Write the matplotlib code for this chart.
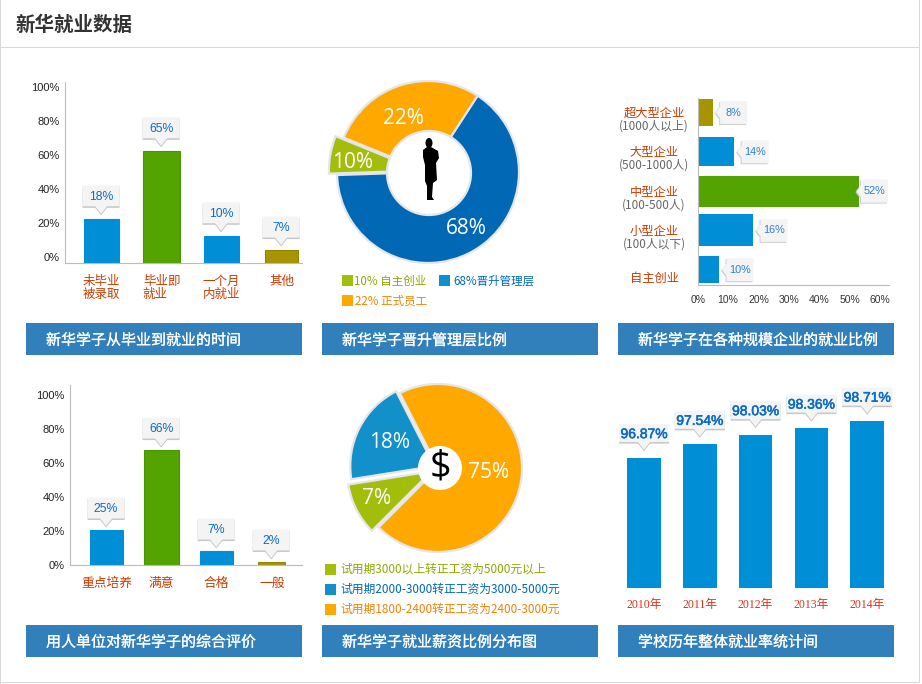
import matplotlib
matplotlib.use("Agg")
import matplotlib.pyplot as plt
import matplotlib.patheffects as pe
from matplotlib.patches import Rectangle, Polygon, Circle, Ellipse
from matplotlib.transforms import ScaledTranslation

plt.rcParams['font.family'] = ['Noto Sans CJK SC', 'DejaVu Sans']

# 从毕业到就业的时间
time_cats = ['未毕业\n被录取', '毕业即\n就业', '一个月\n内就业', '其他']
time_bars = [26, 66, 16, 7.6]
time_labels = ['18%', '65%', '10%', '7%']

# 晋升管理层比例 (扇区大小按图上角度读取)
promo_shares = [65.3, 6.7, 28]
promo_labels = ['68%', '10%', '22%']

# 各种规模企业
size_cats = ['超大型企业', '大型企业', '中型企业', '小型企业', '自主创业']
size_subs = ['(1000人以上)', '(500-1000人)', '(100-500人)', '(100人以下)', '']
size_bars = [4.9, 12, 53.2, 18.2, 7]
size_labels = ['8%', '14%', '52%', '16%', '10%']

# 综合评价
eval_cats = ['重点培养', '满意', '合格', '一般']
eval_bars = [20.6, 67.6, 8.2, 1.8]
eval_labels = ['25%', '66%', '7%', '2%']

# 薪资比例
pay_shares = [70, 10, 20]
pay_labels = ['75%', '7%', '18%']

# 历年就业率
years = ['2010年', '2011年', '2012年', '2013年', '2014年']
rates = [96.87, 97.54, 98.03, 98.36, 98.71]

BLUE = '#008fd7'
GREEN = '#53a400'
OLIVE = '#a69400'
RED = '#c93c00'
LATIN = ['Liberation Sans', 'DejaVu Sans']
W, H = 922, 684

fig = plt.figure(figsize=(W / 100, H / 100), dpi=100)
page = fig.add_axes([0, 0, 1, 1], zorder=5)
page.set_xlim(0, W)
page.set_ylim(H, 0)
page.axis('off')
page.patch.set_alpha(0)


def make_axes(left, top, right, bottom):
    ax = fig.add_axes([left / W, 1 - bottom / H, (right - left) / W, (bottom - top) / H])
    ax.patch.set_alpha(0)
    for s in ['top', 'right']:
        ax.spines[s].set_visible(False)
    for s in ['left', 'bottom']:
        ax.spines[s].set_color('#bbbbbb')
    ax.tick_params(length=0)
    return ax


def to_page(ax, x, y):
    px, py = ax.transData.transform((x, y))
    return px, H - py


def callout_up(ax, x, y, text, w=37, h=21, gap=5, size=8.8, stroke=0, dx=0):
    px, py = to_page(ax, x, y)
    px += dx
    tip = py - gap
    bot = tip - 7.5
    top = bot - h
    pts = [(px - w / 2, top), (px + w / 2, top), (px + w / 2, bot), (px + 6, bot),
           (px, tip), (px - 6, bot), (px - w / 2, bot)]
    page.add_patch(Polygon([(a, b + 1.5) for a, b in pts], fc='#c6c6c6', ec='none'))
    page.add_patch(Polygon(pts, fc='#f4f4f4', ec='none'))
    t = page.text(px, (top + bot) / 2 + 1, text, color='#0a6cc4', fontsize=size, ha='center',
                  va='center', family=LATIN)
    if stroke:
        t.set_path_effects([pe.withStroke(linewidth=stroke, foreground='#0a6cc4')])


def callout_right(ax, x, y, text, gap=3):
    px, py = to_page(ax, x, y)
    tip = px + gap
    left = tip + 4.5
    right = left + 27
    pts = [(left, py - 11.5), (right, py - 11.5), (right, py + 11.5), (left, py + 11.5),
           (left, py + 6), (tip, py), (left, py - 6)]
    page.add_patch(Polygon([(a - 1, b + 1) for a, b in pts], fc='#cfcfcf', ec='none'))
    page.add_patch(Polygon(pts, fc='#f4f4f4', ec='none'))
    page.text((left + right) / 2, py, text, color='#2a7fd0', fontsize=7.8, ha='center', va='center',
              family=LATIN)


def banner(x, y, text):
    page.add_patch(Rectangle((x, y), 276, 32, fc='#317fbb', ec='none'))
    t = page.text(x + 20, y + 17.5, text, color='white', fontsize=10.8, va='center', ha='left')
    t.set_path_effects([pe.withStroke(linewidth=0.15, foreground='white')])


def percent_axis(ax, label_shift):
    ax.set_yticks([0, 20, 40, 60, 80, 100], ['0%', '20%', '40%', '60%', '80%', '100%'])
    ax.tick_params(axis='y', labelsize=8, pad=4, labelcolor='#222222')
    shift = ScaledTranslation(0, label_shift / 100, fig.dpi_scale_trans)
    for t in ax.get_yticklabels():
        t.set_transform(t.get_transform() + shift)
        t.set_family(LATIN)


# 页面框线和标题
page.add_patch(Rectangle((0, 0), 1.2, H, fc='#d8d8d8', ec='none'))
page.add_patch(Rectangle((919, 0), 1.2, 683, fc='#d8d8d8', ec='none'))
page.add_patch(Rectangle((0, 682), 920, 1.2, fc='#d8d8d8', ec='none'))
page.add_patch(Rectangle((0, 47), 920, 1.2, fc='#d8d8d8', ec='none'))
page.text(15, 25, '新华就业数据', fontsize=14, fontweight='bold', color='#333333', va='center')

banner(26, 323, '新华学子从毕业到就业的时间')
banner(322, 323, '新华学子晋升管理层比例')
banner(618, 323, '新华学子在各种规模企业的就业比例')
banner(26, 625, '用人单位对新华学子的综合评价')
banner(322, 625, '新华学子就业薪资比例分布图')
banner(618, 625, '学校历年整体就业率统计间')

# 图一
ax1 = make_axes(65, 82, 302, 263)
ax1.set_xlim(-0.61, 3.34)
ax1.set_ylim(0, 181 / 1.7)
pos = list(range(len(time_cats)))
ax1.bar(pos, time_bars, width=[0.58, 0.62, 0.58, 0.55],
        color=[BLUE, GREEN, BLUE, OLIVE], edgecolor=[BLUE, '#4a9400', BLUE, '#948400'], linewidth=0.8)
percent_axis(ax1, 6)
ax1.set_xticks(pos, time_cats, fontsize=9, color=RED, linespacing=1.0)
ax1.tick_params(axis='x', pad=8.5)
for t in ax1.get_xticklabels():
    t.set_multialignment('left')
for i, lab in enumerate(time_labels):
    callout_up(ax1, i, time_bars[i], lab, dx=-0.5)

# 图四
ax4 = make_axes(70, 385, 302, 565)
ax4.set_xlim(-0.665, 3.55)
ax4.set_ylim(0, 180 / 1.7)
pos = list(range(len(eval_cats)))
ax4.bar(pos, eval_bars, width=[0.6, 0.64, 0.6, 0.5],
        color=[BLUE, GREEN, BLUE, OLIVE], edgecolor=[BLUE, '#4a9400', BLUE, '#948400'], linewidth=0.8)
percent_axis(ax4, 0)
ax4.set_xticks(pos, eval_cats, fontsize=9.2, color=RED)
ax4.tick_params(axis='x', pad=8.5)
for i, lab in enumerate(eval_labels):
    callout_up(ax4, i, eval_bars[i], lab, dx=-0.5, gap=4)

# 图三
ax3 = make_axes(697.7, 98, 889, 285)
ax3.set_xlim(0, 191.3 / 3.04)
ax3.set_ylim(4.389, -0.369)
pos = list(range(len(size_cats)))
ax3.barh(pos, size_bars, height=[0.69, 0.74, 0.79, 0.81, 0.69],
         color=[OLIVE, BLUE, GREEN, BLUE, BLUE], edgecolor='none')
ax3.set_xticks([0, 10, 20, 30, 40, 50, 60], ['0%', '10%', '20%', '30%', '40%', '50%', '60%'])
ax3.tick_params(axis='x', labelsize=7.5, pad=7, labelcolor='#333333')
for t in ax3.get_xticklabels():
    t.set_family(LATIN)
ax3.set_yticks([])
for i, lab in enumerate(size_labels):
    callout_right(ax3, size_bars[i], i, lab, gap=-3 if i == 2 else 3)
    py = to_page(ax3, 0, i)[1]
    if size_subs[i]:
        page.text(654, py + 1, size_cats[i], color=RED, fontsize=8.8, ha='center', va='center')
        page.text(654, py + 13.5, size_subs[i], color='#666666', fontsize=8.5, ha='center', va='center')
    else:
        page.text(654, py + 8.5, size_cats[i], color=RED, fontsize=8.8, ha='center', va='center')

# 图六, 纵轴不从零开始
ax6 = make_axes(615, 400, 895, 588.3)
ax6.set_xlim(-0.52, 4.5)
ax6.set_ylim(90.27, 90.27 + 188.3 / 19.8)
pos = list(range(len(years)))
ax6.bar(pos, rates, width=0.6, color=BLUE, edgecolor='none')
for s in ['left', 'bottom']:
    ax6.spines[s].set_visible(False)
ax6.set_yticks([])
ax6.set_xticks(pos, years, fontsize=8.5, color='#e0301a')
ax6.tick_params(axis='x', pad=8)
for t in ax6.get_xticklabels():
    t.set_family(['Liberation Serif', 'Noto Sans CJK SC'])
for i, r in enumerate(rates):
    callout_up(ax6, i, r, f'{r:.2f}%', w=50, h=18, gap=8, size=10, stroke=0.4)


def pie_axes(cx, cy, r):
    half = r * 1.3
    ax = fig.add_axes([(cx - half) / W, 1 - (cy + half) / H, 2 * half / W, 2 * half / H])
    ax.set_xlim(-1.3, 1.3)
    ax.set_ylim(-1.3, 1.3)
    ax.axis('off')
    return ax


# 图二, 环形
ax2 = pie_axes(428, 172, 91)
ax2.pie(promo_shares, colors=['#0068b5', '#a3bd0b', '#ffa900'], startangle=57, counterclock=False,
        explode=[0, 0.09, 0], radius=1, wedgeprops=dict(edgecolor='#e4e6ea', linewidth=1.6))
ax2.set_xlim(-1.3, 1.3)
ax2.set_ylim(-1.3, 1.3)
page.add_patch(Circle((429, 173), 42, fc='white', ec='#e4e6ea', lw=1.6))
page.text(466, 228, promo_labels[0], color='white', fontsize=15, ha='center', va='center', family='Open Sans')
page.text(353, 162, promo_labels[1], color='white', fontsize=15, ha='center', va='center', family='Open Sans')
page.text(403, 118, promo_labels[2], color='white', fontsize=15, ha='center', va='center', family='Open Sans')
# 人物剪影
page.add_patch(Ellipse((429, 143), 7, 10, fc='black', ec='none'))
page.add_patch(Polygon([(427, 147), (431, 147), (438, 151), (439, 158), (436, 163), (437, 180), (433, 183),
                        (432, 197), (434, 200), (427, 200), (427, 186), (425, 181), (425, 165), (423, 157), (423, 150)],
                       fc='black', ec='none'))

# 图二图例
page.add_patch(Rectangle((342, 275), 11, 11, fc='#a3bd0b', ec='none'))
page.text(354, 281.5, '10% 自主创业', color='#8fa800', fontsize=8.3, va='center')
page.add_patch(Rectangle((439, 275), 11, 11, fc='#1090c8', ec='none'))
page.text(453, 281.5, '68%晋升管理层', color='#0068b7', fontsize=8.3, va='center')
page.add_patch(Rectangle((342, 295), 11, 11, fc='#ffa900', ec='none'))
page.text(355, 301.5, '22% 正式员工', color='#f08300', fontsize=8.3, va='center')

# 图五, 饼图
ax5 = pie_axes(438, 468, 84)
ax5.pie(pay_shares, colors=['#ffa900', '#a3bd0b', '#1190c9'], startangle=117, counterclock=False,
        explode=[0, 0.09, 0.05], radius=1, wedgeprops=dict(edgecolor='#e4e6ea', linewidth=1.6))
ax5.set_xlim(-1.3, 1.3)
ax5.set_ylim(-1.3, 1.3)
page.add_patch(Circle((440, 468), 22, fc='white', ec='none'))
page.text(440, 468, '$', color='black', fontsize=27, ha='center', va='center', family='Open Sans', parse_math=False)
page.text(489, 472, pay_labels[0], color='white', fontsize=15, ha='center', va='center', family='Open Sans')
page.text(377, 499, pay_labels[1], color='white', fontsize=15, ha='center', va='center', family='Open Sans')
page.text(390, 443, pay_labels[2], color='white', fontsize=15, ha='center', va='center', family='Open Sans')

pay_legend = ['试用期3000以上转正工资为5000元以上', '试用期2000-3000转正工资为3000-5000元', '试用期1800-2400转正工资为2400-3000元']
pay_fill = ['#a3bd0b', '#1190c9', '#ffa900']
pay_text = ['#8fa800', '#0068b7', '#f08300']
for i in range(3):
    y = 564 + i * 20
    page.add_patch(Rectangle((325, y), 11, 11, fc=pay_fill[i], ec='none'))
    page.text(340.5, y + 5, pay_legend[i], color=pay_text[i], fontsize=8.5, va='center')

fig.savefig('out.png', dpi=100)
